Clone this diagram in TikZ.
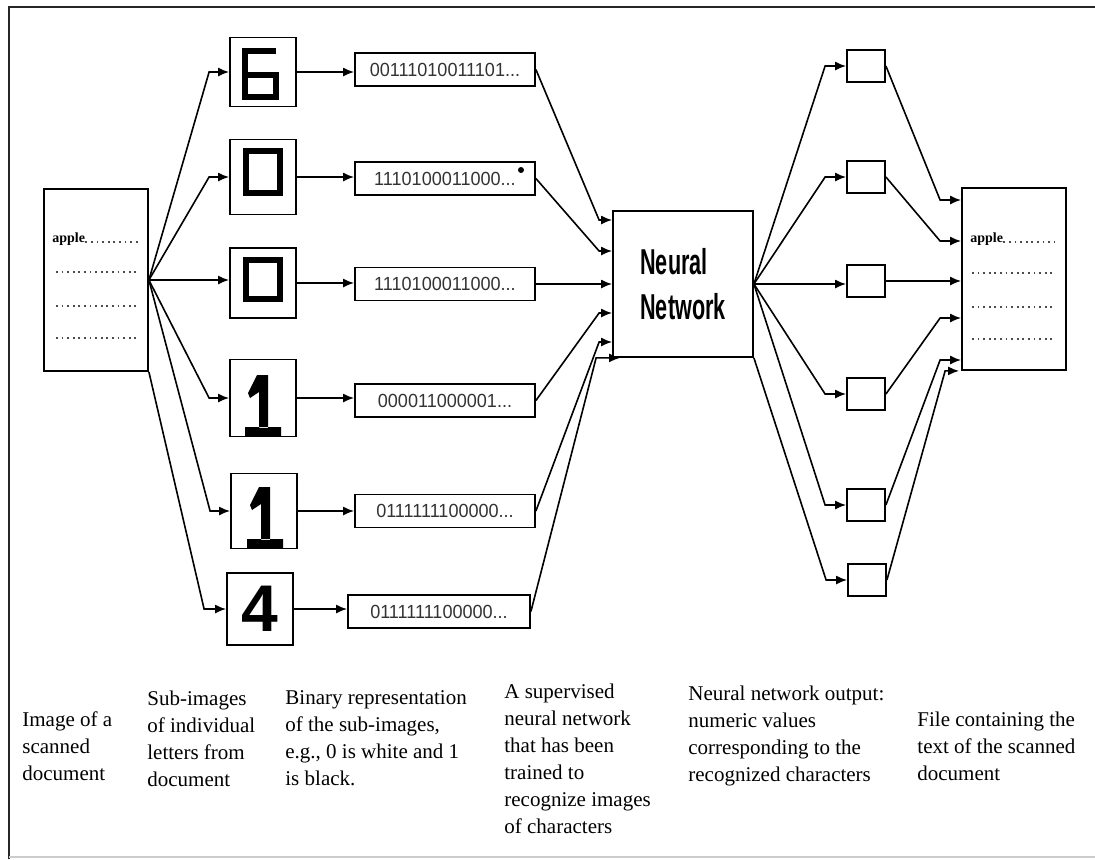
\documentclass[tikz,border=0pt]{standalone}
\usepackage{fontspec}
\setmainfont{Liberation Serif}
\setsansfont{Liberation Sans}
\newfontfamily\bitfont[FakeStretch=0.95]{Liberation Sans}
\newfontfamily\nnfont[FakeStretch=0.6]{Liberation Sans}
\usetikzlibrary{arrows.meta}

\tikzset{
	box/.style={draw, line width=0.9pt, inner sep=0pt},
	doc/.style={box, minimum width=52pt, minimum height=91pt},
	digit/.style={box, minimum width=33pt, minimum height=36pt},
	bits/.style={box, minimum width=90pt, minimum height=16.5pt, text=black!80, font=\bitfont\fontsize{9.5}{9.5}\selectfont},
	outbox/.style={box, minimum width=19pt, minimum height=16pt},
	link/.style={line width=0.8pt, -{Latex[length=5.5pt,width=4.5pt]}},
	glyph/.style={line width=3pt},
	dots/.style={line width=0.9pt, black!70, dash pattern=on 0.9pt off 1.9pt},
	apple/.style={anchor=base west, inner sep=0pt, font=\bfseries\fontsize{7}{7}\selectfont},
	caption/.style={anchor=north west, inner sep=0pt, align=left, font=\fontsize{10.5}{13.5}\selectfont},
}

\begin{document}
\begin{tikzpicture}[x=0.5pt, y=-0.5pt]
			%%%%% START %%%%%
			\useasboundingbox (0,0) rectangle (1095,859);
			
			\draw[line width=1.2pt, black!85] (9,859) -- (9,7) -- (1095,7);
			\draw[line width=1pt, black!20] (9,857) -- (1095,857);
			
			% scanned page
			\node[doc] (ldoc) at (96,280) {};
			\node[apple] (lapple) at (52,242) {apple};
			\draw[dots] (lapple.base east) -- (138,242);
			\foreach \y in {272,306,338}
				\draw[dots] (56,\y) -- (138,\y);
			
			% sub-images
			\node[digit, minimum height=34.5pt] (d1) at (263,72) {};
			\node[digit, minimum height=37.5pt] (d2) at (263,177) {};
			\node[digit, minimum height=35pt] (d3) at (263,283) {};
			\node[digit, minimum height=38.5pt] (d4) at (263,398) {};
			\node[digit, minimum height=37.5pt] (d5) at (264,511) {};
			\node[digit, font=\sffamily\bfseries\fontsize{33}{33}\selectfont] (d6) at (260,609) {4};
			
			\draw[glyph] (276,51) -- (245,51) -- (245,97) -- (276,97) -- (276,75) -- (245,75);
			\draw[glyph] (246,151) rectangle (280,193);
			\draw[glyph] (246,260) rectangle (280,299);
			\foreach \dx/\dy in {0/0,2/112}
				\fill[shift={(\dx,\dy)}] (257,375) -- (268,375) -- (268,428) -- (259,428) -- (259,392) -- (250,398) -- (248,393) -- cycle (245,427) rectangle (281,436);
			
			% binary strings
			\node[bits] (b1) at (445,69.5) {00111010011101...};
			\node[bits] (b2) at (445,178.5) {1110100011000...};
			\node[bits] (b3) at (445,284) {1110100011000...};
			\node[bits] (b4) at (445,400.5) {000011000001...};
			\node[bits] (b5) at (445,511) {0111111100000...};
			\node[bits, minimum width=91pt] (b6) at (439,611.5) {0111111100000...};
			\fill (521,170) circle (1.5pt);
			
			\node[box, minimum width=70pt, minimum height=73pt, align=left, font=\nnfont\bfseries\fontsize{18}{22.5}\selectfont] (nn) at (683,284) {Neural\\Network};
			
			% outputs
			\node[outbox] (o1) at (866,66) {};
			\node[outbox] (o2) at (866,177) {};
			\node[outbox] (o3) at (866,281) {};
			\node[outbox] (o4) at (866,394) {};
			\node[outbox] (o5) at (866,505) {};
			\node[outbox] (o6) at (867,580) {};
			
			% text file
			\node[doc] (rdoc) at (1014,279) {};
			\node[apple] (rapple) at (970,242) {apple};
			\draw[dots] (rapple.base east) -- (1055,242);
			\foreach \y in {273,307,339}
				\draw[dots] (972,\y) -- (1055,\y);
			
			% connectors
			\foreach \d in {d1,d2,d4,d5}
				\draw[link] (ldoc.east) -- ([xshift=-10pt]\d.west) -- (\d.west);
			\draw[link] (ldoc.east) -- (ldoc.east -| d3.west);
			\draw[link] (ldoc.south east) -- ([xshift=-11pt]d6.west) -- (d6.west);
			
			\foreach \d/\b in {d1/b1,d2/b2,d3/b3,d4/b4,d5/b5,d6/b6}
				\draw[link] (\d.east) -- (\d.east -| \b.west);
			
			\coordinate (nnbend) at ([xshift=-6.5pt]nn.west);
			\foreach \b/\y in {b1/220,b2/251,b4/313,b5/342}
				\draw[link] (\b.east) -- (nnbend |- 0,\y) -- (nn.west |- 0,\y);
			\draw[link] (b3.east) -- (b3.east -| nn.west);
			\draw[link] (b6.east) -- ([xshift=-8pt]nn.south west) -- ([xshift=4pt]nn.south west);
			
			\foreach \o in {o1,o2,o4,o5}
				\draw[link] (nn.east) -- ([xshift=-10.5pt]\o.west) -- (\o.west);
			\draw[link] (nn.east) -- (nn.east -| o3.west);
			\draw[link] (nn.south east) -- ([xshift=-10.5pt]o6.west) -- (o6.west);
			
			\coordinate (rbend) at ([xshift=-10.5pt]rdoc.west);
			\foreach \o/\y in {o1/200,o2/241,o4/318,o5/360}
				\draw[link] (\o.east) -- (rbend |- 0,\y) -- (rdoc.west |- 0,\y);
			\draw[link] (o3.east) -- (o3.east -| rdoc.west);
			\draw[link] (o6.east) -- ([xshift=-8pt]rdoc.south west) -- ([xshift=-1pt]rdoc.south west);
			
			% captions
			\node[caption] (cap1) at (22,711) {Image of a\\scanned\\document};
			\node[caption] (cap2) at (147,691) {Sub-images\\of individual\\letters from\\document};
			\node[caption] (cap3) at (285,690) {Binary representation\\of the sub-images,\\e.g., 0 is white and 1\\is black.};
			\node[caption] (cap4) at (504,684) {A supervised\\neural network\\that has been\\trained to\\recognize images\\of characters};
			\node[caption] (cap5) at (688,686) {Neural network output:\\numeric values\\corresponding to the\\recognized characters};
			\node[caption] (cap6) at (917,712) {File containing the\\text of the scanned\\document};
			
			%%%%% END %%%%%
\end{tikzpicture}
\end{document}
